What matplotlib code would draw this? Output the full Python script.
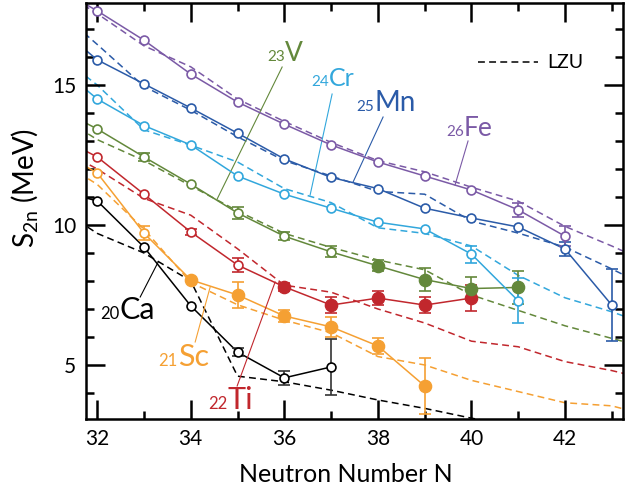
import matplotlib
matplotlib.use("Agg")
import matplotlib.pyplot as plt
from matplotlib.lines import Line2D
from matplotlib.ticker import MultipleLocator

plt.rcParams["font.family"] = ["Lato", "DejaVu Sans"]
plt.rcParams["mathtext.default"] = "regular"

# --- data (MeV) ---
# experimental S2n, N = 31..  (first point only continues the line off the left edge)
n_exp = [31, 32, 33, 34, 35, 36, 37, 38, 39, 40, 41, 42, 43]
ca_exp = [11.3, 10.86, 9.21, 7.11, 5.46, 4.54, 4.93]
sc_exp = [12.8, 11.86, 9.71, 8.04, 7.50, 6.75, 6.36, 5.68, 4.25]
ti_exp = [13.3, 12.43, 11.10, 9.75, 8.57, 7.79, 7.14, 7.39, 7.14, 7.39]
v_exp = [14.3, 13.43, 12.43, 11.46, 10.43, 9.60, 9.04, 8.54, 8.05, 7.73, 7.77]
cr_exp = [15.9, 14.50, 13.55, 12.86, 11.75, 11.10, 10.60, 10.10, 9.86, 8.96, 7.29]
mn_exp = [17.3, 15.90, 15.04, 14.18, 13.28, 12.36, 11.70, 11.30, 10.60, 10.25, 9.93, 9.14, 7.14]
fe_exp = [18.6, 17.65, 16.60, 15.39, 14.39, 13.60, 12.86, 12.25, 11.75, 11.25, 10.54, 9.60]

# uncertainties (0 = no visible bar)
ca_err = [0, 0, 0, 0, 0.15, 0.25, 1.0]
sc_err = [0, 0, 0.25, 0, 0.45, 0.2, 0.35, 0.3, 1.0]
ti_err = [0, 0, 0, 0.1, 0.25, 0.15, 0.3, 0.25, 0.3, 0.45]
v_err = [0, 0, 0.15, 0, 0.2, 0.15, 0.2, 0.2, 0.4, 0.4, 0.6]
cr_err = [0, 0, 0, 0, 0, 0, 0, 0, 0, 0.3, 0.8]
mn_err = [0, 0, 0, 0, 0, 0, 0, 0, 0, 0, 0, 0.25, 1.3]
fe_err = [0, 0, 0, 0, 0, 0, 0, 0, 0, 0, 0.25, 0.35]

# first N measured with the new (filled) points
sc_new_from = 34
ti_new_from = 36
v_new_from = 38

# LZU calculation, N = 31..44
n_lzu = [31, 32, 33, 34, 35, 36, 37, 38, 39, 40, 41, 42, 43, 44]
ca_lzu = [10.8, 9.7, 9.0, 8.0, 4.6, 4.4, 4.1, 3.75, 3.45, 3.1, 2.8]
sc_lzu = [12.5, 11.45, 9.85, 7.95, 7.15, 6.6, 6.15, 5.3, 5.0, 4.45, 4.05, 3.65, 3.54, 3.1]
ti_lzu = [12.9, 12.0, 10.95, 10.35, 9.15, 7.85, 7.6, 7.0, 6.5, 5.85, 5.65, 5.12, 4.8, 4.4]
v_lzu = [14.1, 13.05, 12.3, 11.4, 10.5, 9.7, 9.2, 8.75, 8.4, 7.5, 6.95, 6.4, 5.95, 5.5]
cr_lzu = [16.3, 15.0, 13.4, 12.85, 12.25, 11.3, 10.8, 9.9, 9.7, 9.25, 8.2, 7.4, 6.9, 6.3]
mn_lzu = [17.9, 16.45, 14.95, 14.1, 13.15, 12.3, 11.75, 11.2, 11.1, 10.14, 9.71, 9.21, 8.43, 7.6]
fe_lzu = [18.6, 17.55, 16.4, 15.65, 14.5, 13.7, 12.95, 12.3, 11.9, 11.35, 10.85, 9.95, 9.25, 8.5]

x_ticks = [32, 34, 36, 38, 40, 42]
y_ticks = [5, 10, 15]

series = [
    # symbol, Z, colour, exp, err, lzu, first filled N
    ("Ca", "20", "#000000", ca_exp, ca_err, ca_lzu, None),
    ("Sc", "21", "#F5A033", sc_exp, sc_err, sc_lzu, sc_new_from),
    ("Ti", "22", "#C1272D", ti_exp, ti_err, ti_lzu, ti_new_from),
    ("V", "23", "#63883B", v_exp, v_err, v_lzu, v_new_from),
    ("Cr", "24", "#32A7DC", cr_exp, cr_err, cr_lzu, None),
    ("Mn", "25", "#2B5BA8", mn_exp, mn_err, mn_lzu, None),
    ("Fe", "26", "#7B5AA6", fe_exp, fe_err, fe_lzu, None),
]

# label layout in pixels of the 641x487 picture: split x, baseline y, sizes, leader line
label_px = {
    "Ca": (119, 320, 12, 22, (140, 298), (158, 263)),
    "Sc": (177.5, 367, 12, 22, (195, 343), (210, 288)),
    "Ti": (227.5, 410, 12, 22, (237, 387), (275, 283)),
    "V": (284.5, 62, 11, 19, (282, 68), (217, 200)),
    "Cr": (329, 87, 11, 18, (332, 95), (310, 196)),
    "Mn": (374, 112, 11, 20, (383, 118), (353, 183)),
    "Fe": (464, 137, 11, 19, (468, 142), (455, 186)),
}


def px_to_data(x, y):
    return 32 + (x - 97) / 46.8, 15 - (y - 86) / 28.0


fig = plt.figure(figsize=(6.41, 4.87), dpi=100)
ax = fig.add_axes([86 / 641, (487 - 419) / 487, 537 / 641, 416 / 487])

for sym, z, col, exp, err, lzu, new_from in series:
    ax.plot(n_lzu[: len(lzu)], lzu, color=col, lw=1.1, dashes=(4.5, 2.8), zorder=1)
    ns = n_exp[: len(exp)]
    ax.plot(ns, exp, color=col, lw=1.1, zorder=2)
    # drop the off-axis continuation point for markers / bars
    pts = list(zip(ns, exp, err))[1:]
    eb = [(n, v, e) for n, v, e in pts if e > 0]
    if eb:
        ax.errorbar([p[0] for p in eb], [p[1] for p in eb], yerr=[p[2] for p in eb],
                    fmt="none", ecolor=("#333333" if sym == "Ca" else col),
                    elinewidth=1.2, capsize=4, capthick=1.2, zorder=3)
    op = [(n, v) for n, v, e in pts if new_from is None or n < new_from]
    fp = [(n, v) for n, v, e in pts if new_from is not None and n >= new_from]
    if op:
        ax.plot([p[0] for p in op], [p[1] for p in op], "o", ms=6.4, mfc="white",
                mec=col, mew=1.2, zorder=4)
    if fp:
        ax.plot([p[0] for p in fp], [p[1] for p in fp], "o", ms=8.8, mfc=col,
                mec=col, zorder=4)

    sx, by, fz, fs, p0, p1 = label_px[sym]
    tx, ty = px_to_data(sx, by)
    ax.text(tx, ty, z, color=col, fontsize=fz, ha="right", va="baseline", zorder=5)
    ax.text(tx, ty, sym, color=col, fontsize=fs, ha="left", va="baseline", zorder=5)
    a = px_to_data(*p0)
    b = px_to_data(*p1)
    ax.plot([a[0], b[0]], [a[1], b[1]], color=col, lw=0.8, zorder=2)

ax.set_xlim(31.76, 43.24)
ax.set_ylim(3.07, 17.93)
ax.set_xticks(x_ticks)
ax.set_yticks(y_ticks)
ax.xaxis.set_minor_locator(MultipleLocator(1))
ax.yaxis.set_minor_locator(MultipleLocator(1))
ax.tick_params(which="both", direction="in", top=True, right=True, width=1.8, labelsize=15)
ax.tick_params(which="major", length=13.5)
ax.tick_params(which="minor", length=5.5)
ax.tick_params(axis="x", pad=7)
ax.tick_params(axis="y", pad=7)
for s in ax.spines.values():
    s.set_linewidth(1.8)

ax.set_xlabel("Neutron Number N", fontsize=18)
ax.xaxis.set_label_coords(0.484, -0.105)
ax.set_ylabel(r"S$_{2n}$ (MeV)", fontsize=20)
ax.yaxis.set_label_coords(-0.085, 0.555)

h = Line2D([], [], color="black", lw=1.1, dashes=(4.5, 2.8))
ax.legend(handles=[h], labels=["LZU"], loc="center left",
          bbox_to_anchor=((478 - 86) / 537, (419 - 63) / 416), frameon=False,
          borderpad=0, borderaxespad=0, handlelength=3.1, handletextpad=0.45, fontsize=14)

fig.savefig("out.png", dpi=100)
